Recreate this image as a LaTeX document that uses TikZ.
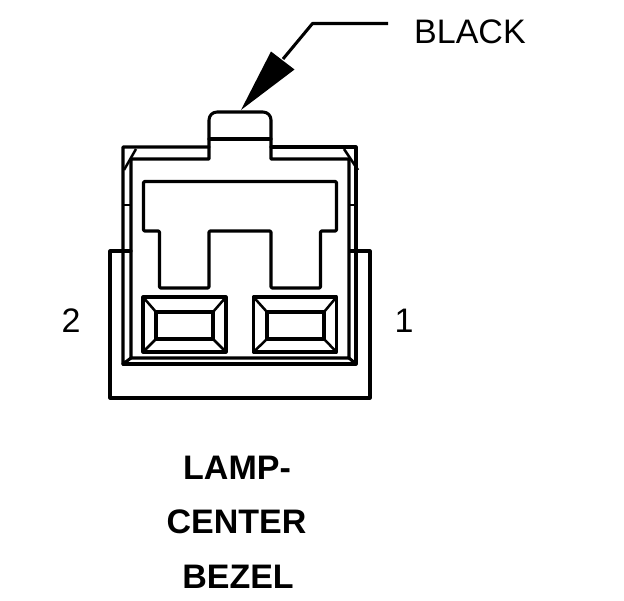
\documentclass[tikz,border=0pt]{standalone}
\usepackage{fontspec}
\setmainfont{Liberation Sans}
\begin{document}
\begin{tikzpicture}[x=1pt,y=-1pt,
  ln/.style={line width=3.05pt,line join=round,line cap=round,black},
  thin ln/.style={line width=2.5pt,line join=round,black},
  lab/.style={font=\fontsize{34}{34}\selectfont,inner sep=0pt,text=black},
  blab/.style={font=\fontsize{34}{34}\selectfont\bfseries,inner sep=0pt,text=black}]
\useasboundingbox (0,0) rectangle (624,600);
% outer housing
\draw[ln] (131,251) -- (110,251) -- (110,398) -- (370,398) -- (370,251) -- (350,251);
% shell
\draw[ln] (131,251) -- (131,159) -- (209,159) -- (209,120) arc[start angle=180,end angle=270,radius=8] -- (263,112) arc[start angle=270,end angle=360,radius=8] -- (271,159) -- (349,159) -- (349,358) -- (131,358) -- (131,251);
\draw[ln] (131,358) -- (123,364) -- (123,147) -- (209,147);
\draw[ln] (271,147) -- (356,147) -- (356,364) -- (123,364);
\draw[ln] (349,358) -- (356,364);
\draw[ln] (209,139) -- (271,139);
\draw[thin ln] (136,149) -- (124,170);
\draw[thin ln] (344,149) -- (358,170);
\draw[thin ln] (123,205) -- (131,205);
\draw[thin ln] (349,205) -- (356,205);
% key shape
\draw[ln,rounded corners=1pt] (143.5,231) -- (143.5,181.5) -- (336.5,181.5) -- (336.5,231) -- (320.5,231) -- (320.5,288) -- (271,288) -- (271,231) -- (209,231) -- (209,288) -- (159.5,288) -- (159.5,231) -- cycle;
% terminals
\foreach \xa/\xb/\xc/\xd in {143/156/213/226,253.5/267/324/336.5}{
  \draw[ln] (\xa,297) rectangle (\xd,352);
  \draw[ln] (\xb,312) rectangle (\xc,339);
  \draw[thin ln] (\xa,297) -- (\xb,312);
  \draw[thin ln] (\xd,297) -- (\xc,312);
  \draw[thin ln] (\xa,352) -- (\xb,339);
  \draw[thin ln] (\xd,352) -- (\xc,339);
}
% leader
\coordinate (legend) at (388,23.5);
\coordinate (elbow) at (312.5,23.5);
\coordinate (headbase) at (283,59);
\draw[ln,line cap=butt] (legend) -- (elbow) -- (headbase);
\fill[black] (241,110) -- (271,51.5) -- (294.5,69.5) -- cycle;
% labels
\node[lab,anchor=base west] (black) at (414,43.5) {BLACK};
\node[lab,anchor=base] (pintwo) at (71,332.5) {2};
\node[lab,anchor=base] (pinone) at (404,332.5) {1};
\node[blab,anchor=base] (lamp) at (237,479.5) {LAMP-};
\node[blab,anchor=base] (center) at (236.5,533) {CENTER};
\node[blab,anchor=base] (bezel) at (238,588) {BEZEL};
\end{tikzpicture}
\end{document}
